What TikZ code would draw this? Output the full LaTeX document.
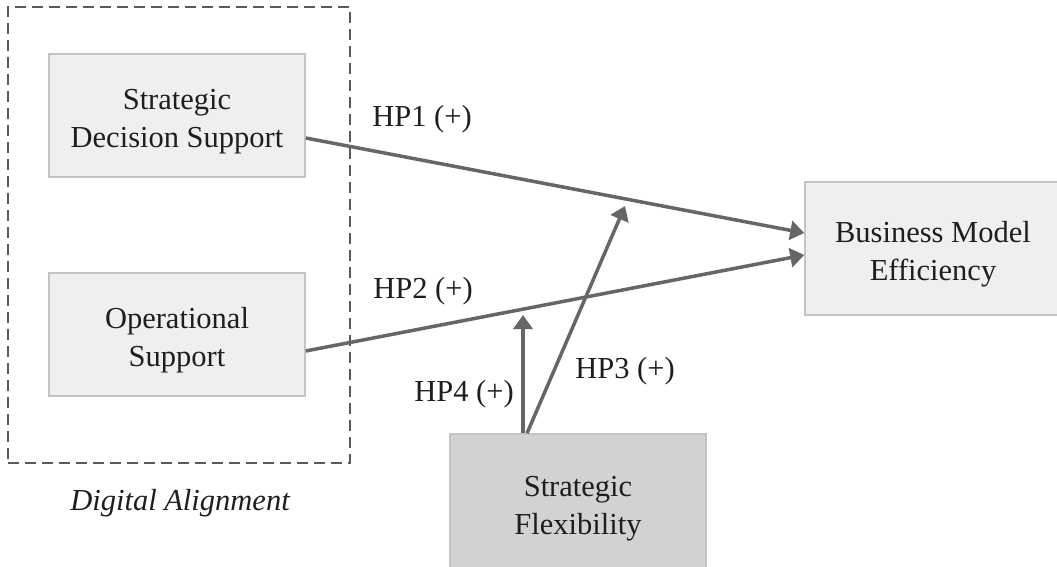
\documentclass[tikz,border=0pt]{standalone}
\usepackage{fontspec}
\setmainfont{Liberation Serif}
\usetikzlibrary{arrows.meta}
\definecolor{boxfill}{HTML}{EFEFEF}
\definecolor{flexfill}{HTML}{D2D2D2}
\definecolor{boxline}{HTML}{C4C4C4}
\definecolor{arrowgrey}{HTML}{666666}
\definecolor{dashgrey}{HTML}{5A5A5A}
\definecolor{textgrey}{HTML}{1E1E1E}

\begin{document}
\begin{tikzpicture}[x=1pt,y=-1pt,
    every node/.style={font=\fontsize{30.5}{38}\selectfont, text=textgrey},
    box/.style={draw=boxline, line width=1.5pt, fill=boxfill, align=center,
                minimum width=256pt, minimum height=123pt, inner sep=0pt,
                text height=71pt},
    link/.style={draw=arrowgrey, line width=3.5pt, -{Triangle[length=14pt,width=19pt]}},
    lbl/.style={inner sep=0pt}]
    \useasboundingbox (0,0) rectangle (1057,567);
    % digital alignment group
    \node [draw=dashgrey, line width=1.8pt, dash pattern=on 11pt off 6pt,
           minimum width=342pt, minimum height=456pt] (align) at (179,235) {};
    \node [font=\fontsize{30.5}{38}\selectfont\itshape] (alignlbl) at (180,503) {Digital Alignment};
    \node [box] (sds) at (177,115.5) {Strategic\\Decision Support};
    \node [box] (ops) at (177,334.5) {Operational\\Support};
    \node [box, minimum width=256pt, minimum height=133pt] (bme) at (933,248.5) {Business Model\\Efficiency};
    \node [box, fill=flexfill, minimum height=136pt] (flex) at (578,502) {Strategic\\Flexibility};
    % end points of the moderating links
    \coordinate (hp3end) at (625,206);
    \coordinate (hp4end) at (523,315);
    \draw [link] ([yshift=-22.5pt]sds.east) -- ([yshift=15.5pt]bme.west);
    \draw [link] ([yshift=-16.5pt]ops.east) -- ([yshift=-6.5pt]bme.west);
    \draw [link] ([xshift=-51pt]flex.north) -- (hp3end);
    \draw [link] ([xshift=-55pt]flex.north) -- (hp4end);
    \node [lbl] (hp1) at (422,119) {HP1 (+)};
    \node [lbl] (hp2) at (423,291) {HP2 (+)};
    \node [lbl] (hp3) at (625,371) {HP3 (+)};
    \node [lbl] (hp4) at (464,394) {HP4 (+)};
\end{tikzpicture}
\end{document}
